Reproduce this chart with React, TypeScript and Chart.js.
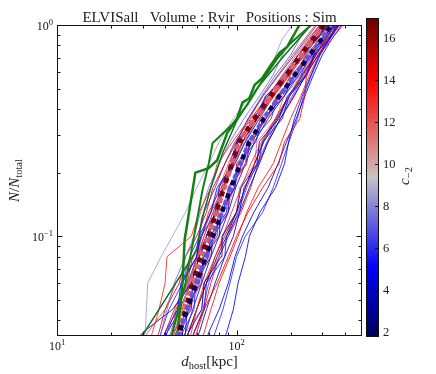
import React, { useEffect, useRef } from "react";
import { Chart, registerables } from "chart.js";

Chart.register(...registerables);

const FONT = '"Liberation Serif", "DejaVu Serif", serif';

const TITLE = "ELVISall   Volume : Rvir   Positions : Sim";

// axis ranges
const X_MIN = 10;
const X_MAX = 500;
const Y_MIN = 0.0337;
const Y_MAX = 1;
const C_MIN = 1.75;
const C_MAX = 16.95;

// ticks
const X_MAJOR = [10, 100];
const X_MAJOR_EXP = ["1", "2"];
const X_MINOR = [20, 30, 40, 50, 60, 70, 80, 90, 200, 300, 400];
const Y_MAJOR = [0.1, 1];
const Y_MAJOR_EXP = ["\u22121", "0"];
const Y_MINOR = [0.04, 0.05, 0.06, 0.07, 0.08, 0.09, 0.2, 0.3, 0.4, 0.5, 0.6, 0.7, 0.8, 0.9];
const CBAR_TICKS = [2, 4, 6, 8, 10, 12, 14, 16];

// N/N_total levels shared by the host lines
const LEVELS = [0.025, 0.035, 0.045, 0.06, 0.08, 0.1, 0.13, 0.17, 0.22, 0.28, 0.36, 0.46, 0.58, 0.72, 0.86, 1.0];

// c_-2 of each thin host line
const THIN_C = [
  8.5, 5, 13, 4.5, 7.5, 12.5, 14.5, 5.5, 6, 14, 4, 12, 3, 11, 6.5, 15, 7, 13.5,
  5, 9.5, 14, 6, 10.5, 12.5, 4, 13, 5.5, 15.5, 3.5, 11.5, 6.5, 14, 2.5, 14, 5, 13.5,
  4.5, 12, 6, 3,
];

// d_host [kpc] of each thin host line at LEVELS
const THIN_D = [
  [27, 31, 31.5, 32, 38, 44, 52, 60, 70, 80, 96, 118, 150, 165, 180, 205],
  [36, 40, 47, 49, 60, 62, 72, 78, 96, 100, 126, 145, 190, 220, 268, 305],
  [30, 34, 37, 40, 41, 56, 62, 72, 78, 95, 118, 140, 170, 205, 240, 275],
  [44, 52, 53, 62, 66, 80, 82, 98, 102, 128, 140, 185, 208, 264, 300, 350],
  [33, 38, 41, 45, 52, 58, 63, 70, 80, 92, 110, 134, 160, 180, 200, 228],
  [38, 44, 46, 54, 60, 66, 74, 84, 95, 104, 128, 158, 188, 230, 270, 310],
  [31, 37, 40, 48, 52, 60, 68, 74, 86, 98, 120, 150, 185, 220, 255, 290],
  [42, 46, 56, 57, 70, 71, 88, 90, 108, 115, 146, 170, 218, 245, 306, 345],
  [34, 38, 42, 50, 55, 62, 66, 76, 86, 100, 116, 140, 172, 210, 245, 280],
  [52, 58, 66, 78, 90, 100, 116, 140, 172, 185, 225, 240, 245, 275, 320, 378],
  [37, 41, 49, 50, 60, 63, 78, 80, 94, 102, 130, 146, 196, 228, 282, 318],
  [41, 45, 54, 58, 70, 72, 84, 90, 112, 114, 150, 166, 214, 256, 300, 335],
  [22, 30, 44, 56, 62, 68, 76, 84, 95, 108, 130, 158, 192, 235, 275, 320],
  [39, 45, 49, 55, 62, 68, 76, 86, 97, 110, 132, 160, 195, 240, 275, 315],
  [36, 41, 46, 55, 60, 64, 72, 85, 96, 112, 130, 150, 182, 222, 260, 298],
  [43, 50, 51, 64, 65, 78, 79, 98, 100, 124, 136, 175, 200, 262, 282, 330],
  [38, 43, 47, 53, 61, 66, 74, 84, 92, 100, 116, 138, 165, 200, 225, 255],
  [40, 45, 50, 54, 60, 68, 78, 86, 96, 108, 130, 162, 198, 238, 278, 322],
  [76, 88, 96, 102, 112, 118, 135, 165, 185, 195, 210, 232, 260, 290, 330, 370],
  [42, 47, 54, 59, 66, 74, 85, 92, 104, 120, 144, 172, 214, 252, 296, 340],
  [35, 40, 45, 53, 57, 64, 70, 82, 94, 108, 130, 154, 195, 232, 262, 300],
  [45, 50, 58, 59, 72, 74, 90, 92, 112, 120, 156, 170, 228, 255, 312, 355],
  [44, 49, 55, 63, 68, 76, 88, 97, 108, 118, 150, 174, 218, 258, 300, 338],
  [42, 48, 55, 60, 68, 74, 84, 96, 106, 120, 144, 180, 216, 260, 302, 345],
  [48, 54, 64, 66, 82, 83, 100, 106, 130, 134, 172, 192, 244, 270, 325, 365],
  [50, 56, 60, 66, 76, 84, 94, 106, 120, 138, 164, 196, 230, 272, 320, 368],
  [52, 58, 66, 68, 86, 88, 104, 110, 132, 140, 180, 196, 248, 272, 330, 360],
  [47, 54, 60, 68, 76, 86, 100, 112, 126, 140, 165, 195, 232, 275, 312, 352],
  [54, 62, 68, 76, 86, 96, 104, 118, 134, 150, 175, 208, 244, 285, 330, 372],
  [49, 52, 64, 66, 80, 84, 100, 104, 126, 130, 166, 184, 232, 260, 318, 350],
  [50, 58, 65, 70, 80, 90, 102, 114, 130, 148, 170, 204, 238, 278, 315, 355],
  [53, 60, 66, 72, 80, 90, 106, 120, 132, 150, 176, 210, 242, 284, 325, 372],
  [46, 54, 60, 68, 78, 88, 100, 112, 126, 142, 168, 198, 234, 276, 316, 358],
  [40, 44, 55, 57, 72, 74, 90, 91, 114, 118, 146, 168, 212, 242, 295, 332],
  [46, 52, 57, 64, 72, 80, 90, 99, 112, 126, 150, 184, 222, 268, 310, 358],
  [58, 66, 72, 80, 92, 102, 114, 132, 160, 178, 200, 228, 255, 288, 340, 392],
  [62, 70, 80, 90, 98, 108, 125, 150, 170, 190, 215, 240, 268, 300, 340, 385],
  [26, 32, 40, 46, 58, 64, 72, 80, 90, 102, 124, 150, 180, 215, 250, 292],
  [66, 76, 84, 92, 100, 112, 140, 160, 178, 196, 218, 236, 262, 292, 332, 375],
  [39, 44, 48, 56, 62, 70, 76, 84, 98, 112, 134, 160, 196, 240, 280, 325],
];

// green host lines
const GREEN1_D = [44, 47, 50, 51.4, 59, 70, 78, 89, 100, 108, 118, 126, 139, 156, 174, 192, 224];
const GREEN1_N = [0.025, 0.035, 0.06, 0.096, 0.2, 0.21, 0.229, 0.31, 0.354, 0.43, 0.45, 0.52, 0.56, 0.65, 0.74, 0.79, 1.0];
const GREEN2_D = [38, 44, 52, 58, 64.6, 70, 73.6, 85, 95, 115, 140, 170, 200, 260];
const GREEN2_N = [0.025, 0.035, 0.06, 0.1, 0.165, 0.22, 0.276, 0.31, 0.34, 0.42, 0.55, 0.7, 0.82, 1.0];
const GREEN3_D = [24, 30, 60, 64, 72, 84, 100, 130, 180, 260];
const GREEN3_N = [0.02, 0.034, 0.086, 0.12, 0.17, 0.25, 0.35, 0.5, 0.7, 1.0];

// dashed median lines at LEVELS
const MED_RED_D = [43, 48, 52, 57, 63, 70, 77, 85, 94, 104, 126, 155, 190, 228, 268, 305];
const MED_BLUE_D = [42, 48, 53, 60, 67.5, 74, 83, 93, 105, 118, 142, 173, 211, 256, 298, 338];

const CMAP_STOPS: number[][] = [
  [0, 0, 0, 90],
  [0.22, 0, 0, 255],
  [0.5, 200, 195, 195],
  [0.8, 255, 0, 0],
  [1, 110, 0, 0],
];

function cmapNorm(v: number): string {
  const t = Math.max(0, Math.min(1, v));
  for (let i = 0; i < CMAP_STOPS.length - 1; i++) {
    const a = CMAP_STOPS[i];
    const b = CMAP_STOPS[i + 1];
    if (t <= b[0]) {
      const f = (t - a[0]) / (b[0] - a[0]);
      const r = Math.round(a[1] + (b[1] - a[1]) * f);
      const g = Math.round(a[2] + (b[2] - a[2]) * f);
      const bl = Math.round(a[3] + (b[3] - a[3]) * f);
      return `rgb(${r},${g},${bl})`;
    }
  }
  return "rgb(110,0,0)";
}
const cmap = (c: number) => cmapNorm((c - C_MIN) / (C_MAX - C_MIN));

type Part = { t: string; size: number; italic?: boolean; dy?: number };
const fontOf = (p: Part) => `${p.italic ? "italic " : ""}${p.size}px ${FONT}`;

function drawParts(ctx: CanvasRenderingContext2D, parts: Part[], x: number, y: number, align: "left" | "center" | "right") {
  let w = 0;
  for (const p of parts) {
    ctx.font = fontOf(p);
    w += ctx.measureText(p.t).width;
  }
  let cx = align === "left" ? x : align === "center" ? x - w / 2 : x - w;
  ctx.textAlign = "left";
  ctx.textBaseline = "alphabetic";
  for (const p of parts) {
    ctx.font = fontOf(p);
    ctx.fillText(p.t, cx, y + (p.dy || 0));
    cx += ctx.measureText(p.t).width;
  }
}

function drawRotated(ctx: CanvasRenderingContext2D, parts: Part[], x: number, y: number) {
  ctx.save();
  ctx.translate(x, y);
  ctx.rotate(-Math.PI / 2);
  drawParts(ctx, parts, 0, 0, "center");
  ctx.restore();
}

const mainPlugin = {
  id: "mainDecor",
  afterDraw(chart: any) {
    const { ctx, chartArea: a, scales } = chart;
    const xs = scales.x;
    const ys = scales.y;
    ctx.save();
    ctx.strokeStyle = "#111";
    ctx.fillStyle = "#111";
    ctx.lineWidth = 1;
    const L = Math.round(a.left) + 0.5;
    const R = Math.round(a.right) - 0.5;
    const T = Math.round(a.top) + 0.5;
    const B = Math.round(a.bottom) - 0.5;
    ctx.strokeRect(L, T, R - L, B - T);
    ctx.beginPath();
    const xt = (v: number, len: number) => {
      const p = Math.round(xs.getPixelForValue(v)) + 0.5;
      ctx.moveTo(p, B);
      ctx.lineTo(p, B - len);
      ctx.moveTo(p, T);
      ctx.lineTo(p, T + len);
    };
    const yt = (v: number, len: number) => {
      const p = Math.round(ys.getPixelForValue(v)) + 0.5;
      ctx.moveTo(L, p);
      ctx.lineTo(L + len, p);
      ctx.moveTo(R, p);
      ctx.lineTo(R - len, p);
    };
    X_MAJOR.forEach((v) => xt(v, 5));
    X_MINOR.forEach((v) => xt(v, 3));
    Y_MAJOR.forEach((v) => yt(v, 5));
    Y_MINOR.forEach((v) => yt(v, 3));
    ctx.stroke();

    // tick labels
    X_MAJOR.forEach((v, i) => {
      const p = xs.getPixelForValue(v);
      drawParts(ctx, [{ t: "10", size: 12 }, { t: X_MAJOR_EXP[i], size: 8.5, dy: -5 }], p, 350, "center");
    });
    Y_MAJOR.forEach((v, i) => {
      const p = ys.getPixelForValue(v);
      drawParts(ctx, [{ t: "10", size: 12 }, { t: Y_MAJOR_EXP[i], size: 8.5, dy: -5 }], a.left - 4, p + 5, "right");
    });

    // title
    ctx.fillStyle = "#222";
    drawParts(ctx, [{ t: TITLE, size: 15 }], (a.left + a.right) / 2, 21.5, "center");

    // axis labels
    drawParts(
      ctx,
      [
        { t: "d", size: 15, italic: true },
        { t: "host", size: 10.5, dy: 3 },
        { t: "[kpc]", size: 15 },
      ],
      (a.left + a.right) / 2,
      366,
      "center"
    );
    drawRotated(
      ctx,
      [
        { t: "N", size: 15, italic: true },
        { t: "/", size: 15 },
        { t: "N", size: 15, italic: true },
        { t: "total", size: 10.5, dy: 3 },
      ],
      19,
      (a.top + a.bottom) / 2
    );
    ctx.restore();
  },
};

const cbarPlugin = {
  id: "cbarDecor",
  afterDraw(chart: any) {
    const { ctx, chartArea: a, scales } = chart;
    const ys = scales.y;
    const y0 = ys.getPixelForValue(C_MIN);
    const y1 = ys.getPixelForValue(C_MAX);
    ctx.save();
    const g = ctx.createLinearGradient(0, y0, 0, y1);
    CMAP_STOPS.forEach((s) => g.addColorStop(s[0], `rgb(${s[1]},${s[2]},${s[3]})`));
    ctx.fillStyle = g;
    ctx.fillRect(a.left, y1, a.right - a.left, y0 - y1);
    ctx.strokeStyle = "#111";
    ctx.lineWidth = 1;
    ctx.strokeRect(a.left + 0.5, Math.round(y1) + 0.5, a.right - a.left - 1, Math.round(y0 - y1) - 1);
    ctx.beginPath();
    CBAR_TICKS.forEach((v) => {
      const p = Math.round(ys.getPixelForValue(v)) + 0.5;
      ctx.moveTo(a.right - 0.5, p);
      ctx.lineTo(a.right - 4, p);
    });
    ctx.stroke();
    ctx.fillStyle = "#222";
    CBAR_TICKS.forEach((v) => {
      const p = ys.getPixelForValue(v);
      drawParts(ctx, [{ t: String(v), size: 12.5 }], a.right + 4, p + 4.3, "left");
    });
    drawRotated(
      ctx,
      [
        { t: "c", size: 15, italic: true },
        { t: "\u22122", size: 10.5, dy: 3 },
      ],
      a.right + 30,
      176
    );
    ctx.restore();
  },
};

const pts = (ds: number[], ns: number[]) => ds.map((d, i) => ({ x: d, y: ns[i] }));

export default function App() {
  const mainRef = useRef<HTMLCanvasElement>(null);
  const cbRef = useRef<HTMLCanvasElement>(null);

  useEffect(() => {
    const common = { pointRadius: 0, tension: 0, fill: false, clip: 0 };
    const dash = [5, 9];
    const datasets: any[] = [
      { ...common, data: pts(MED_BLUE_D, LEVELS), borderColor: cmap(2), borderWidth: 4.5, borderDash: dash, borderDashOffset: 7 },
      { ...common, data: pts(MED_BLUE_D, LEVELS), borderColor: cmap(7), borderWidth: 4.5, borderDash: dash, borderDashOffset: 0 },
      { ...common, data: pts(MED_RED_D, LEVELS), borderColor: cmap(16.5), borderWidth: 5, borderDash: dash, borderDashOffset: 7 },
      { ...common, data: pts(MED_RED_D, LEVELS), borderColor: cmap(11.7), borderWidth: 5.5, borderDash: dash, borderDashOffset: 0 },
      { ...common, data: pts(GREEN1_D, GREEN1_N), borderColor: "rgb(20,128,20)", borderWidth: 2.5 },
      { ...common, data: pts(GREEN2_D, GREEN2_N), borderColor: "rgb(20,128,20)", borderWidth: 2 },
      { ...common, data: pts(GREEN3_D, GREEN3_N), borderColor: "rgb(20,110,40)", borderWidth: 1.5 },
    ];
    THIN_D.forEach((ds, i) => {
      datasets.push({ ...common, data: pts(ds, LEVELS), borderColor: cmap(THIN_C[i]), borderWidth: 0.85 });
    });

    const main = new Chart(mainRef.current!, {
      type: "line",
      data: { datasets },
      options: {
        responsive: false,
        animation: false,
        devicePixelRatio: 1,
        events: [],
        layout: { padding: { left: 0, top: 25, right: 74, bottom: 0 } },
        plugins: { legend: { display: false }, tooltip: { enabled: false }, title: { display: false } },
        scales: {
          x: {
            type: "logarithmic",
            min: X_MIN,
            max: X_MAX,
            grid: { display: false },
            border: { display: false },
            ticks: { display: false },
            afterFit: (s: any) => {
              s.height = 38;
            },
          },
          y: {
            type: "logarithmic",
            min: Y_MIN,
            max: Y_MAX,
            grid: { display: false },
            border: { display: false },
            ticks: { display: false },
            afterFit: (s: any) => {
              s.width = 57;
            },
          },
        },
      } as any,
      plugins: [mainPlugin],
    });

    const cb = new Chart(cbRef.current!, {
      type: "line",
      data: { datasets: [] },
      options: {
        responsive: false,
        animation: false,
        devicePixelRatio: 1,
        events: [],
        layout: { padding: { left: 0, top: 18, right: 57, bottom: 37 } },
        plugins: { legend: { display: false }, tooltip: { enabled: false } },
        scales: {
          x: { type: "linear", display: false, min: 0, max: 1 },
          y: { type: "linear", display: false, min: C_MIN, max: C_MAX },
        },
      } as any,
      plugins: [cbarPlugin],
    });

    return () => {
      main.destroy();
      cb.destroy();
    };
  }, []);

  return (
    <div style={{ position: "fixed", left: 0, top: 0, width: 436, height: 374, background: "#fff" }}>
      <canvas ref={mainRef} width={436} height={374} style={{ position: "absolute", left: 0, top: 0 }} />
      <canvas ref={cbRef} width={70} height={374} style={{ position: "absolute", left: 366, top: 0 }} />
    </div>
  );
}
